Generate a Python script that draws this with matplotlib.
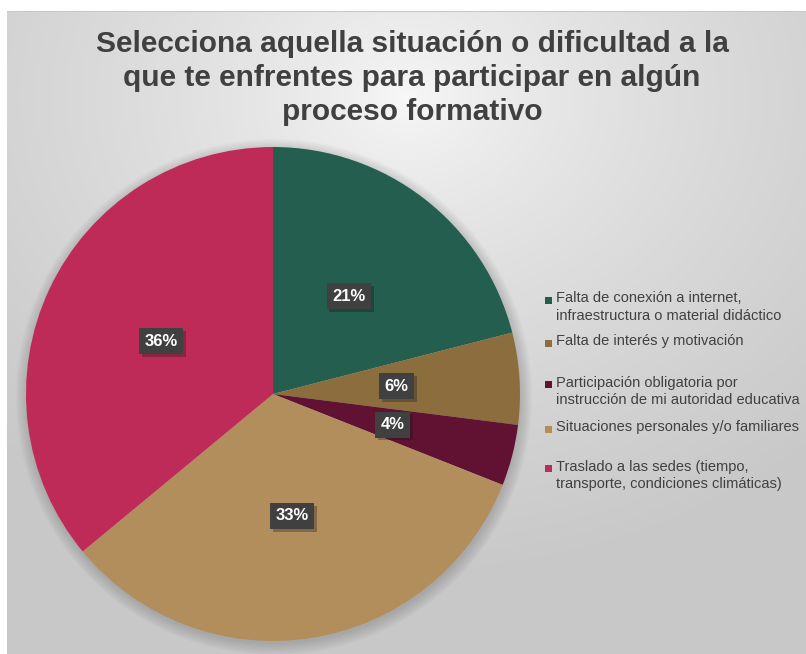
import numpy as np
import matplotlib
matplotlib.use('Agg')
import matplotlib.pyplot as plt
import matplotlib.patheffects as pe
from matplotlib.patches import Rectangle, Circle

plt.rcParams['font.family'] = ['Liberation Sans', 'DejaVu Sans']

# Datos
categorias = [
    'Falta de conexión a internet,\ninfraestructura o material didáctico',
    'Falta de interés y motivación',
    'Participación obligatoria por\ninstrucción de mi autoridad educativa',
    'Situaciones personales y/o familiares',
    'Traslado a las sedes (tiempo,\ntransporte, condiciones climáticas)',
]
porcentajes = [21, 6, 4, 33, 36]
colores = ['#245E4F', '#8C6E3E', '#611232', '#B38E5D', '#BF2B58']

titulo = ('Selecciona aquella situación o dificultad a la\n'
          'que te enfrentes para participar en algún\n'
          'proceso formativo')

W, H = 806, 654
fig = plt.figure(figsize=(W / 100, H / 100), dpi=100)
fig.patch.set_facecolor('white')

# Fondo con degradado radial
bg = fig.add_axes([7 / W, 0, 1 - 7 / W, (H - 11) / H])
yy, xx = np.mgrid[0:300, 0:400]
cx, cy = 200, 40
d = np.sqrt(((xx - cx) / 400) ** 2 + ((yy - cy) / 300) ** 2)
val = 0.975 - 0.19 * np.clip(d / 0.75, 0, 1) ** 0.7
bg.imshow(np.dstack([val, val, val]), extent=[0, 1, 0, 1], aspect='auto',
          interpolation='bicubic')
bg.axhline(1, color='#c8c8c8', lw=1.5)
bg.set_axis_off()

# Pastel
R = 247
cxp, cyp = 273, H - 394
ax = fig.add_axes([(cxp - R) / W, (cyp - R) / H, 2 * R / W, 2 * R / H])
ax.set_axis_off()

# sombra suave
for k in range(10):
    ax.add_patch(Circle((0.004, -0.012), 1.0 + 0.005 * k, color='black',
                        alpha=0.014, lw=0, zorder=0, clip_on=False))

wedges, texts, autotexts = ax.pie(
    porcentajes, colors=colores, startangle=90, counterclock=False,
    autopct='%d%%', pctdistance=0.5, radius=1.0,
    wedgeprops=dict(linewidth=0), textprops=dict(color='white', fontsize=12,
                                                 fontweight='bold'))
for t in autotexts:
    t.set_bbox(dict(boxstyle='square,pad=0.33', fc='#404040', ec='none'))
    t.get_bbox_patch().set_path_effects([
        pe.SimplePatchShadow(offset=(2, -2), alpha=0.3), pe.Normal()])
ax.set_xlim(-1, 1)
ax.set_ylim(-1, 1)

# Título
fig.text(412 / W, 1 - 78 / H, titulo, ha='center', va='center',
         fontsize=21.5, fontweight='bold', color='#404040', linespacing=1.27)

# Leyenda
ys = [300, 343, 384, 429, 468]
for y, lab, c in zip(ys, categorias, colores):
    fig.patches.append(Rectangle((545 / W, 1 - (y + 3.5) / H), 7 / W, 7 / H,
                                 transform=fig.transFigure, fc=c, ec='none'))
    fig.text(556 / W, 1 - (y - 8.5) / H, lab, ha='left', va='top', fontsize=10.5,
             color='#404040', linespacing=1.35)

fig.savefig('out.png', dpi=100)
